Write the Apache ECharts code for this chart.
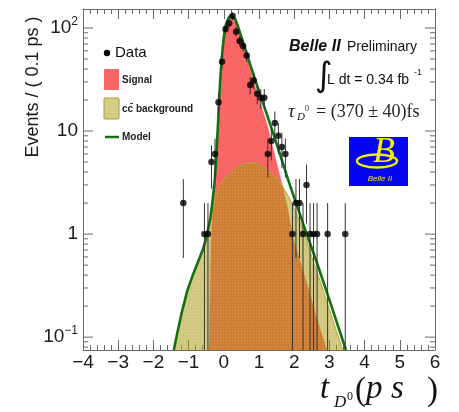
<!DOCTYPE html>
<html>
<head>
<meta charset="utf-8">
<script src="https://cdn.jsdelivr.net/npm/echarts@6/dist/echarts.min.js"></script>
<style>
  html, body { margin: 0; padding: 0; background: #fff; }
  #chart { width: 459px; height: 412px; }
</style>
</head>
<body>
<div id="chart"></div>
<script>
// D0 decay-time distribution: events per 0.1 ps bin
const binCentres = [-1.15, -0.55, -0.45, -0.35, -0.25, -0.15, -0.05, 0.05, 0.15, 0.25,
                    0.35, 0.45, 0.55, 0.65, 0.75, 0.85, 0.95, 1.05, 1.15, 1.25,
                    1.35, 1.45, 1.55, 1.65, 1.75, 1.95, 2.05, 2.15, 2.25, 2.35,
                    2.45, 2.55, 2.65, 2.95, 3.45];
const binCounts = [2, 1, 1, 5, 6, 19, 47, 98, 111, 131,
                   92, 75, 67, 54, 28, 31, 23, 21, 21, 6,
                   8, 12, 9, 7, 6, 1, 2, 2, 1, 3,
                   1, 1, 1, 1, 1];

// Fit model (total) sampled along the curve
const modelT = [-1.42, -1.33, -1.2, -1.04, -0.88, -0.72, -0.6, -0.52, -0.45, -0.38,
                -0.32, -0.26, -0.22, -0.19, -0.16, -0.14, -0.11, -0.07, -0.03, 0.02,
                0.06, 0.1, 0.14, 0.17, 0.2, 0.25, 0.33, 0.4, 0.52, 0.7,
                0.89, 1.08, 1.32, 1.6, 1.84, 2.25, 2.66, 3.0, 3.47];
const modelY = [0.075, 0.106, 0.17, 0.28, 0.4, 0.55, 0.7, 0.86, 1.1, 1.44,
                2.1, 3.27, 5.0, 8.0, 12.5, 18.5, 28, 46, 65, 93,
                108, 118, 126, 130, 133, 131, 121, 104, 78, 50,
                31.6, 20.3, 11.6, 5.9, 3.27, 1.27, 0.51, 0.23, 0.075];

// Signal component
const signalT = [-0.41, -0.39, -0.37, -0.35, -0.31, -0.27, -0.23, -0.19, -0.16, -0.14,
                 -0.11, -0.07, -0.03, 0.02, 0.06, 0.1, 0.14, 0.17, 0.2, 0.25,
                 0.33, 0.4, 0.52, 0.7, 0.94, 1.23, 1.51, 1.63, 1.8, 1.97,
                 2.2, 2.45, 2.7, 2.93];
const signalY = [0.075, 0.25, 0.55, 1.0, 1.9, 2.9, 4.6, 7.6, 12, 18,
                 27, 45, 63, 91, 105, 115, 123, 126, 127, 126,
                 115, 99, 74, 45.5, 24, 11.6, 4.75, 3.3, 1.85, 0.9,
                 0.5, 0.26, 0.13, 0.075];

// c-cbar background component
const bkgT = [-1.42, -1.33, -1.2, -1.04, -0.88, -0.72, -0.6, -0.52, -0.45, -0.38,
              -0.29, -0.22, -0.15, 0.0, 0.14, 0.28, 0.42, 0.6, 0.8, 1.0,
              1.18, 1.32, 1.45, 1.65, 1.89, 2.1, 2.3, 2.5, 2.75, 3.0,
              3.2, 3.38];
const bkgY = [0.075, 0.105, 0.17, 0.28, 0.4, 0.55, 0.7, 0.85, 1.08, 1.4,
              1.95, 2.4, 2.8, 3.35, 3.8, 4.2, 4.57, 4.82, 4.93, 4.78,
              4.4, 4.0, 3.6, 3.0, 2.15, 1.5, 1.0, 0.6, 0.34, 0.185,
              0.115, 0.075];

// Axis ranges and log-axis tick marks
const xRange = [-4, 6];
const yRange = [0.075, 153];
const yMajorTicks = [0.1, 1, 10, 100];
const yMinorTicks = [0.08, 0.09, 0.2, 0.3, 0.4, 0.5, 0.6, 0.7, 0.8, 0.9,
                     2, 3, 4, 5, 6, 7, 8, 9, 20, 30, 40, 50, 60, 70, 80, 90];

const RED = '#fa6565';
const GREEN = '#146e14';
const FRAME = '#6a6a6a';
const SANS = '"Liberation Sans", Arial, sans-serif';
const SERIF = '"Liberation Serif", "DejaVu Serif", serif';

function pairs(xs, ys) { return xs.map((x, i) => [x, ys[i]]); }

// small dotted fill used for the background component
function dotPattern() {
  const c = document.createElement('canvas');
  c.width = 3; c.height = 3;
  const g = c.getContext('2d');
  g.fillStyle = 'rgba(165,150,10,0.52)';
  g.fillRect(0, 0, 3, 3);
  g.fillStyle = 'rgba(255,255,200,0.22)';
  g.fillRect(1, 1, 1, 1);
  return c;
}

const errorBars = binCentres.map((t, i) => {
  const n = binCounts[i], e = Math.sqrt(n);
  return [t, Math.max(n - e, yRange[0]), n + e];
});

const tickData = yMajorTicks.map(v => [v, 10]).concat(yMinorTicks.map(v => [v, 5]));

function supLabel(v) {
  const lg = Math.log10(v);
  const k = Math.round(lg);
  if (Math.abs(lg - k) > 1e-6) return '';
  if (k === 0) return '{b|1}';
  if (k === 1) return '{b|10}';
  return '{b|10}{s|' + (k < 0 ? '\u2212' : '') + Math.abs(k) + '}';
}

const chart = echarts.init(document.getElementById('chart'), null, { renderer: 'canvas' });

const xAxisBase = {
  type: 'value', min: xRange[0], max: xRange[1], interval: 1,
  axisLine: { show: true, onZero: false, lineStyle: { color: FRAME, width: 1 } },
  axisTick: { show: true, inside: true, length: 10, lineStyle: { color: FRAME } },
  minorTick: { show: true, splitNumber: 5, length: 5, lineStyle: { color: FRAME } },
  splitLine: { show: false }, minorSplitLine: { show: false }
};

const curve = { type: 'line', xAxisIndex: 0, yAxisIndex: 0, smooth: false,
                showSymbol: false, symbol: 'none' };

const option = {
  animation: false,
  backgroundColor: '#fff',
  grid: { left: 83, right: 24, top: 9, bottom: 62, containLabel: false },
  xAxis: [
    Object.assign({}, xAxisBase, {
      position: 'bottom',
      axisLabel: {
        show: true, margin: 3, fontFamily: SANS, fontSize: 19, color: '#1a1a1a',
        formatter: v => (v < 0 ? '\u2212' + Math.abs(v) : String(v))
      }
    }),
    Object.assign({}, xAxisBase, { position: 'top', axisLabel: { show: false } })
  ],
  yAxis: [
    {
      type: 'log', logBase: 10, min: yRange[0], max: yRange[1], position: 'left',
      axisLine: { show: true, onZero: false, lineStyle: { color: FRAME, width: 1 } },
      axisTick: { show: false }, splitLine: { show: false },
      axisLabel: {
        show: true, margin: 5, showMinLabel: false, showMaxLabel: false,
        formatter: supLabel,
        rich: {
          b: { fontFamily: SANS, fontSize: 19, color: '#1a1a1a' },
          s: { fontFamily: SANS, fontSize: 12, color: '#1a1a1a', padding: [0, 0, 12, 0] }
        }
      }
    },
    {
      type: 'log', logBase: 10, min: yRange[0], max: yRange[1], position: 'right',
      axisLine: { show: true, onZero: false, lineStyle: { color: FRAME, width: 1 } },
      axisTick: { show: false }, axisLabel: { show: false }, splitLine: { show: false }
    }
  ],
  series: [
    Object.assign({}, curve, {
      name: 'Signal', data: pairs(signalT, signalY),
      lineStyle: { color: RED, width: 0.5 },
      areaStyle: { color: RED, opacity: 1, origin: 'start' }, z: 1
    }),
    Object.assign({}, curve, {
      name: 'cc background', data: pairs(bkgT, bkgY),
      lineStyle: { color: '#b3a634', width: 1 },
      areaStyle: { color: { image: dotPattern(), repeat: 'repeat' }, opacity: 1, origin: 'start' }, z: 2
    }),
    Object.assign({}, curve, {
      name: 'Model', data: pairs(modelT, modelY),
      lineStyle: { color: GREEN, width: 2.6, join: 'round' }, z: 3
    }),
    {
      name: 'ticks', type: 'custom', xAxisIndex: 0, yAxisIndex: 0,
      data: tickData, silent: true, clip: false, z: 4,
      renderItem: (params, api) => {
        const v = api.value(0), len = api.value(1);
        const pl = api.coord([xRange[0], v]);
        const pr = api.coord([xRange[1], v]);
        const st = { stroke: FRAME, lineWidth: 1 };
        return {
          type: 'group', children: [
            { type: 'line', shape: { x1: pl[0], y1: pl[1], x2: pl[0] + len, y2: pl[1] }, style: st },
            { type: 'line', shape: { x1: pr[0], y1: pr[1], x2: pr[0] - len, y2: pr[1] }, style: st }
          ]
        };
      }
    },
    {
      name: 'errors', type: 'custom', xAxisIndex: 0, yAxisIndex: 0,
      data: errorBars, silent: true, clip: true, z: 5,
      renderItem: (params, api) => {
        const lo = api.coord([api.value(0), api.value(1)]);
        const hi = api.coord([api.value(0), api.value(2)]);
        return { type: 'line', shape: { x1: lo[0], y1: lo[1], x2: hi[0], y2: hi[1] },
                 style: { stroke: '#333', lineWidth: 1 } };
      }
    },
    {
      name: 'Data', type: 'scatter', xAxisIndex: 0, yAxisIndex: 0,
      data: pairs(binCentres, binCounts), symbol: 'circle', symbolSize: 6.5,
      itemStyle: { color: '#000' }, z: 6
    }
  ],
  graphic: [
    // y axis title
    { type: 'text', x: 33, y: 87, rotation: Math.PI / 2,
      style: { text: 'Events / ( 0.1 ps )', font: '18px ' + SANS, fill: '#1a1a1a', align: 'center', verticalAlign: 'middle' } },
    // x axis title  t_{D^0}(ps)
    { type: 'text', x: 320, y: 389, style: { text: 't', font: 'italic 33px ' + SERIF, fill: '#111', verticalAlign: 'middle' } },
    { type: 'text', x: 334, y: 403, style: { text: 'D', font: 'italic 17px ' + SERIF, fill: '#111', verticalAlign: 'middle' } },
    { type: 'text', x: 347, y: 397, style: { text: '0', font: '12px ' + SERIF, fill: '#111', verticalAlign: 'middle' } },
    { type: 'text', x: 355, y: 391, style: { text: '(', font: '33px ' + SERIF, fill: '#111', verticalAlign: 'middle' } },
    { type: 'text', x: 366, y: 389, style: { text: 'p', font: 'italic 33px ' + SERIF, fill: '#111', verticalAlign: 'middle' } },
    { type: 'text', x: 391, y: 389, style: { text: 's', font: 'italic 33px ' + SERIF, fill: '#111', verticalAlign: 'middle' } },
    { type: 'text', x: 427, y: 391, style: { text: ')', font: '33px ' + SERIF, fill: '#111', verticalAlign: 'middle' } },

    // legend
    { type: 'circle', shape: { cx: 107, cy: 53, r: 3.2 }, style: { fill: '#000' } },
    { type: 'text', x: 115, y: 53, style: { text: 'Data', font: '15px ' + SANS, fill: '#111', verticalAlign: 'middle' } },
    { type: 'rect', shape: { x: 104, y: 69, width: 15, height: 21, r: 1 }, style: { fill: RED } },
    { type: 'text', x: 122, y: 80, style: { text: 'Signal', font: 'bold 10px ' + SANS, fill: '#222', verticalAlign: 'middle' } },
    { type: 'rect', shape: { x: 104, y: 98, width: 15, height: 21, r: 1 }, style: { fill: '#d4cd86', stroke: '#a59a3c', lineWidth: 1 } },
    { type: 'text', x: 122, y: 109, style: { text: 'cc\u0304 background', font: 'bold 10px ' + SANS, fill: '#222', verticalAlign: 'middle' } },
    { type: 'line', shape: { x1: 105, y1: 137, x2: 119, y2: 137 }, style: { stroke: GREEN, lineWidth: 2.5 } },
    { type: 'text', x: 122, y: 137, style: { text: 'Model', font: 'bold 10px ' + SANS, fill: '#222', verticalAlign: 'middle' } },

    // experiment label and fit result
    { type: 'text', x: 289, y: 47, style: { text: 'Belle II', font: 'italic bold 16px ' + SANS, fill: '#111', verticalAlign: 'middle' } },
    { type: 'text', x: 347, y: 47, style: { text: 'Preliminary', font: '14px ' + SANS, fill: '#111', verticalAlign: 'middle' } },
    { type: 'text', x: 315, y: 77, style: { text: '\u222B', font: '34px "DejaVu Sans", sans-serif', fill: '#111', verticalAlign: 'middle' } },
    { type: 'text', x: 327, y: 80, style: { text: 'L dt = 0.34 fb', font: '14px ' + SANS, fill: '#111', verticalAlign: 'middle' } },
    { type: 'text', x: 414, y: 73, style: { text: '-1', font: '9px ' + SANS, fill: '#111', verticalAlign: 'middle' } },
    { type: 'text', x: 288, y: 112, style: { text: '\u03C4', font: 'italic 19px ' + SERIF, fill: '#222', verticalAlign: 'middle' } },
    { type: 'text', x: 297, y: 117, style: { text: 'D', font: 'italic 11px ' + SERIF, fill: '#222', verticalAlign: 'middle' } },
    { type: 'text', x: 305, y: 109, style: { text: '0', font: '8px ' + SERIF, fill: '#222', verticalAlign: 'middle' } },
    { type: 'text', x: 316, y: 112, style: { text: '= (370 \u00B1 40)fs', font: '18px ' + SERIF, fill: '#222', verticalAlign: 'middle' } },

    // collaboration logo
    { type: 'rect', shape: { x: 349, y: 137, width: 59, height: 49 }, style: { fill: '#0505f2' } },
    { type: 'ellipse', shape: { cx: 377, cy: 161, rx: 20, ry: 6.5 }, style: { fill: 'none', stroke: '#f4ee00', lineWidth: 2.4 } },
    { type: 'text', x: 384, y: 153, style: { text: 'B', font: 'italic 36px ' + SERIF, fill: '#f4ee00', align: 'center', verticalAlign: 'middle' } },
    { type: 'text', x: 380, y: 179, style: { text: 'Belle II', font: 'italic 8px ' + SANS, fill: '#f4ee00', align: 'center', verticalAlign: 'middle' } }
  ]
};

chart.setOption(option);
</script>
</body>
</html>
